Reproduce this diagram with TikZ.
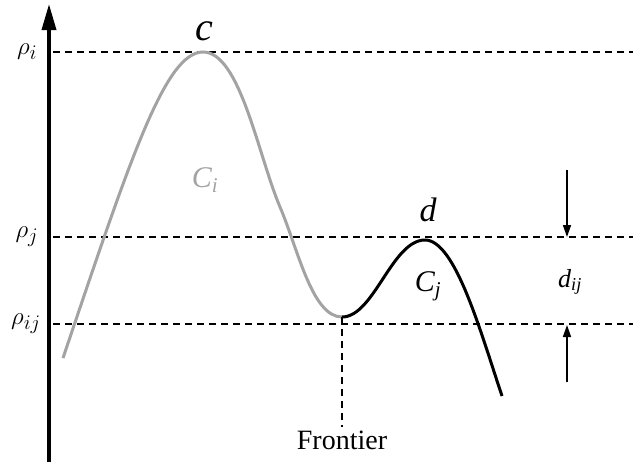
\documentclass[tikz,border=0pt]{standalone}
\usepackage{fontspec}
\setmainfont{Liberation Serif}
\usetikzlibrary{arrows.meta}
\definecolor{curvegray}{RGB}{163,163,163}

\begin{document}
\begin{tikzpicture}[
    x=1pt, y=-1pt,
    level/.style={dashed, dash pattern=on 7pt off 5pt, line width=1.3pt},
    levellabel/.style={font=\fontsize{29}{29}\selectfont, anchor=center},
    peaklabel/.style={font=\fontsize{#1}{#1}\selectfont\itshape},
    peaklabel/.default=30,
    arrow/.style={-{Triangle[length=12pt, width=8pt]}, line width=1.5pt},
]
\useasboundingbox (0,0) rectangle (633,464);

% vertical axis
\coordinate (ax0) at (49,462);
\coordinate (ax1) at (49,4);
\draw[line width=3.5pt, -{Triangle[length=26pt, width=14pt]}] (ax0) -- (ax1);

% levels
\node[levellabel] (ri)  at (27,52)  {$\rho_i$};
\node[levellabel] (rj)  at (27,237) {$\rho_j$};
\node[levellabel] (rij) at (26,324) {$\rho_{ij}$};
\coordinate (ei)  at (633,52);
\coordinate (ej)  at (633,237);
\coordinate (eij) at (633,324);
\draw[level] (53,52)  -- (ei);
\draw[level] (53,237) -- (ej);
\draw[level] (53,324) -- (eij);

% cluster curves
\coordinate (front) at (342,317);
\draw[curvegray, line width=3pt]
    (63,358) .. controls (130,160) and (165,52) .. (203,52)
    .. controls (240,52) and (258,155) .. (280,207)
    .. controls (298,249) and (312,317) .. (front);
\draw[black, line width=3pt]
    (front) .. controls (374,317) and (392,240) .. (425,240)
    .. controls (455,240) and (480,330) .. (502,396);

% labels
\node[peaklabel=40] (c)  at (204,31)  {c};
\node[peaklabel=34] (d)  at (428,210) {d};
\node[peaklabel, text=curvegray] (ci) at (205,180) {C\textsubscript{i}};
\node[peaklabel] (cj) at (428,286) {C\textsubscript{j}};
\node[peaklabel=26] (dij) at (570,282) {d\textsubscript{ij}};

% frontier
\node[font=\fontsize{28}{28}\selectfont] (fr) at (342,440) {Frontier};
\draw[level] (front) -- (fr.north);

% distance arrows
\coordinate (up0) at (567,170);
\coordinate (up1) at (567,237);
\coordinate (dn0) at (567,382);
\coordinate (dn1) at (567,325);
\draw[arrow] (up0) -- (up1);
\draw[arrow] (dn0) -- (dn1);

\end{tikzpicture}
\end{document}
